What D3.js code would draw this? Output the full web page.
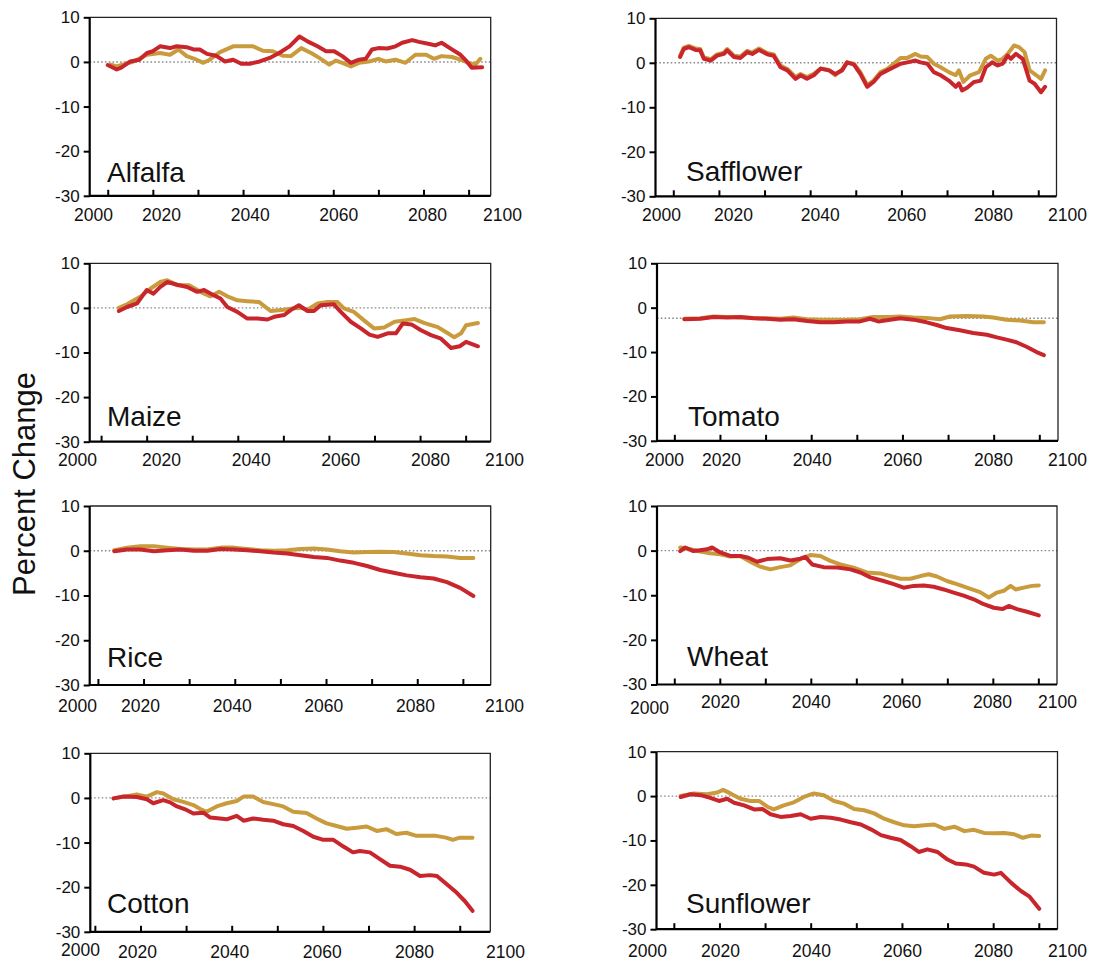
<!DOCTYPE html>
<html>
<head>
<meta charset="utf-8">
<script src="https://cdn.jsdelivr.net/npm/d3@7"></script>
<style>
  body { margin: 0; background: #fff; }
  svg { display: block; font-family: "Liberation Sans", Arial, Helvetica, sans-serif; }
</style>
</head>
<body>
<svg id="chart" width="1120" height="963"></svg>
<script>
// ---- data: yield change (%) by year, two emission scenarios per crop ----
const crops = ["Alfalfa", "Safflower", "Maize", "Tomato", "Rice", "Wheat", "Cotton", "Sunflower"];
const yTicks = [10, 0, -10, -20, -30];
const xTickYears = [2010, 2020, 2030, 2040, 2050, 2060, 2070, 2080, 2090];
const xLabelYears = [2000, 2020, 2040, 2060, 2080, 2100];
const refLevels = [0, 0, 0, -2.4, 0, 0, 0, 0];

const alfalfaA2 = [[2010,-0.7],[2012,-1.7],[2013,-1.3],[2015,0.1],[2017,0.5],[2018.7,2],[2020,2.4],[2021.6,3.5],[2023.8,3.1],[2025.3,3.5],[2027.5,3.3],[2029,2.8],[2030.4,2.8],[2032,1.8],[2034,1.4],[2036,0.1],[2037.8,0.5],[2039.6,-0.4],[2041.5,-0.4],[2043.7,0.1],[2045.9,0.9],[2048,2],[2050.3,3.5],[2052.5,5.7],[2054.3,4.6],[2056.5,3.5],[2058.4,2.4],[2060.2,2.4],[2062,1.3],[2063.9,-0.2],[2065.7,0.5],[2067.2,0.7],[2068.6,2.8],[2070,3.1],[2072,3],[2073.8,3.5],[2075.3,4.3],[2077.5,4.9],[2079,4.5],[2081.3,4],[2082.6,3.7],[2084,4.3],[2086.3,2.8],[2088.2,1.6],[2089.6,0.1],[2090.7,-1.3],[2093,-1.2]];
const alfalfaB1 = [[2010.7,-0.6],[2012,-1],[2015.7,0.1],[2018.7,1.6],[2021.6,2],[2023.8,1.6],[2025.7,2.8],[2027.5,1.3],[2029.7,0.5],[2031.2,-0.2],[2032.6,0.5],[2034.9,2.2],[2037.8,3.5],[2040,3.5],[2042.2,3.5],[2044.4,2.5],[2046.6,2.4],[2048.8,1.4],[2050.6,1.3],[2052.9,3.1],[2055.1,2],[2056.9,0.9],[2059.1,-0.6],[2060.6,0.3],[2062,-0.2],[2063.9,-1],[2065.7,-0.2],[2067.9,0.1],[2070,0.7],[2071.6,0.1],[2073.8,0.5],[2076,-0.2],[2078.2,1.6],[2080.6,1.6],[2082.3,0.7],[2084,1.3],[2086.3,1.1],[2088.2,0.5],[2090,-0.2],[2091.5,-0.6],[2092.6,0.7]];

const safflowerA2 = [[2011.5,1.3],[2012.3,3.1],[2013.4,3.5],[2014.9,2.9],[2015.9,2.8],[2016.7,0.9],[2018.2,0.5],[2019.6,1.6],[2021.1,2],[2021.8,2.8],[2023.3,1.3],[2024.7,1.1],[2026.2,2.4],[2027.3,2],[2028.8,2.9],[2030.6,1.9],[2032,1.6],[2033.5,-1],[2035,-1.7],[2036.8,-3.6],[2037.9,-2.8],[2039.3,-3.6],[2040.8,-2.8],[2042.3,-1.3],[2044.1,-1.7],[2045.5,-2.5],[2047,-1.7],[2048.1,0.1],[2049.6,-0.4],[2051,-2.5],[2052.5,-5.4],[2053.9,-4.3],[2055.4,-2.5],[2056.9,-1.7],[2058.3,-1],[2059.8,-0.2],[2061.3,0.1],[2063.1,0.5],[2064.2,0.1],[2065.7,-0.2],[2067.1,-2.1],[2068.6,-2.8],[2070.4,-4],[2071.9,-5.4],[2072.6,-4.6],[2073.3,-6.2],[2074.4,-5.6],[2075.9,-4.3],[2077.4,-4],[2078.5,-1],[2079.9,0.1],[2081.1,-0.6],[2082.2,-0.2],[2083.3,1.6],[2084,0.9],[2085.1,2],[2086.6,0.9],[2088.1,-4],[2089.2,-4.7],[2090.6,-6.6],[2091.5,-5.4]];
const safflowerB1 = [[2011.5,1.6],[2012.3,3.4],[2013.4,3.8],[2014.9,3.2],[2015.9,3.1],[2016.7,1.2],[2018.2,0.8],[2019.6,1.9],[2021.1,2.3],[2021.8,3.1],[2023.3,1.6],[2024.7,1.4],[2026.2,2.7],[2027.3,2.3],[2028.8,3.2],[2030.6,2.2],[2032,1.9],[2033.5,-0.6],[2035,-1.4],[2036.8,-3.2],[2037.9,-2.5],[2039.3,-3.2],[2040.8,-2.5],[2042.3,-1.3],[2044.1,-1.6],[2045.5,-2.8],[2047,-1.5],[2048.1,0.1],[2049.6,-0.2],[2051,-2.1],[2052.5,-5],[2053.9,-4],[2055.4,-2.1],[2056.9,-1.4],[2058.3,-0.2],[2059.8,1.1],[2061.3,1.1],[2063.1,2],[2064.2,1.4],[2065.7,1.3],[2067.1,-0.2],[2068.6,-1],[2070.4,-2.1],[2071.9,-2.8],[2072.6,-1.7],[2073.6,-4.3],[2075.1,-2.8],[2077,-2.1],[2078.5,0.9],[2079.6,1.6],[2081.1,0.5],[2082.2,0.9],[2083.3,2],[2084.7,3.9],[2085.8,3.5],[2087,2.4],[2088.1,-1.7],[2089.6,-2.8],[2090.6,-3.6],[2091.5,-1.7]];

const maizeA2 = [[2013.9,-0.7],[2015.7,0.2],[2017.9,1],[2020,4],[2021.5,3.2],[2023,4.7],[2024.5,5.8],[2026.7,5.2],[2028.9,4.7],[2031.1,3.6],[2032.6,4],[2034.8,2.8],[2036.2,2.1],[2037.7,0.2],[2039.9,-0.9],[2042.1,-2.4],[2044.3,-2.4],[2046.5,-2.6],[2048,-2],[2050.2,-1.6],[2051.6,-0.5],[2053.4,0.6],[2055.3,-0.7],[2056.7,-0.7],[2058.2,0.6],[2061.1,0.8],[2062.6,-0.9],[2064.8,-3.1],[2067,-4.6],[2068.9,-6],[2070.7,-6.5],[2072.9,-5.7],[2074.7,-5.7],[2076.2,-3.5],[2078.1,-3.7],[2080.2,-5],[2082.4,-6.1],[2084.6,-6.9],[2086.8,-9],[2088.7,-8.6],[2090.1,-7.6],[2092.7,-8.6]];
const maizeB1 = [[2013.9,0],[2015.7,0.8],[2018.6,2.5],[2020.8,4.3],[2023,5.8],[2024.5,6.2],[2026.7,5.1],[2029.3,5.1],[2031.8,3.6],[2034,2.6],[2035.9,3.6],[2037.7,2.6],[2039.9,1.7],[2042.1,1.5],[2044.7,1.3],[2047.2,-0.7],[2050.2,-0.4],[2052.3,-0.1],[2053.8,0],[2055.3,-0.4],[2057.5,1],[2059.7,1.3],[2061.9,1.3],[2063.3,-0.1],[2065.5,-0.9],[2067.7,-2.8],[2069.9,-4.6],[2072.1,-4.4],[2074.4,-3.1],[2076.6,-2.8],[2078.8,-2.5],[2081,-3.4],[2083.9,-4.3],[2086.1,-5.7],[2087.5,-6.6],[2089,-5.7],[2090.1,-3.9],[2092.7,-3.4]];

const tomatoA2 = [[2012.2,-2.6],[2015.7,-2.5],[2018.6,-2.1],[2021.5,-2.2],[2024.5,-2.1],[2027.4,-2.4],[2030.3,-2.5],[2033.2,-2.7],[2036.1,-2.6],[2039.1,-3],[2042,-3.3],[2044.9,-3.3],[2047.8,-3.1],[2050.7,-3.1],[2052.9,-2.5],[2054.7,-3.1],[2057.3,-2.7],[2059.5,-2.4],[2062.4,-2.7],[2065.3,-3.3],[2067.5,-3.9],[2069.7,-4.6],[2072.6,-5.1],[2075.5,-5.7],[2078.5,-6.1],[2080.7,-6.7],[2082.8,-7.2],[2085,-7.8],[2087.2,-8.8],[2089.4,-10],[2091,-10.7]];
const tomatoB1 = [[2012.2,-2.5],[2015.7,-2.4],[2018.6,-2],[2021.5,-2.1],[2024.5,-2.2],[2027.4,-2.3],[2030.3,-2.4],[2033.2,-2.5],[2036.1,-2.2],[2039.1,-2.6],[2042,-2.7],[2044.9,-2.7],[2047.8,-2.7],[2050.7,-2.6],[2053.6,-2.1],[2057.3,-2.1],[2059.5,-2],[2062.4,-2.2],[2065.3,-2.3],[2068.2,-2.6],[2070.4,-2],[2074,-1.9],[2077.7,-2],[2079.9,-2.2],[2082.8,-2.7],[2085.8,-2.9],[2088.7,-3.3],[2091,-3.3]];

const riceA2 = [[2013.6,-0.1],[2016.4,0.3],[2019.3,0.3],[2022.3,-0.1],[2025.2,0.1],[2028.1,0.3],[2031,0],[2034,0],[2036.9,0.4],[2039.8,0.3],[2042.7,0.1],[2045.6,-0.1],[2048.5,-0.4],[2051.5,-0.6],[2054.4,-1],[2057.3,-1.4],[2060.2,-1.6],[2063.1,-2.2],[2066.1,-2.7],[2069,-3.4],[2071.9,-4.3],[2074.8,-4.9],[2077.7,-5.5],[2080.7,-5.9],[2083.6,-6.2],[2086.5,-7],[2089.4,-8.3],[2092.3,-10.1]];
const riceB1 = [[2013.6,0.1],[2016.4,0.7],[2019.3,1],[2022.3,1],[2025.2,0.7],[2028.1,0.4],[2031,0.3],[2034,0.3],[2036.9,0.7],[2039.8,0.7],[2042.7,0.4],[2045.6,0.1],[2048.5,0],[2051.5,0.1],[2054.4,0.4],[2057.3,0.5],[2060.2,0.3],[2063.1,-0.1],[2066.1,-0.4],[2069,-0.3],[2071.9,-0.2],[2074.8,-0.3],[2077.7,-0.6],[2080.7,-1],[2083.6,-1.2],[2086.5,-1.3],[2089.4,-1.6],[2092.3,-1.6]];

const wheatA2 = [[2011.3,-0.1],[2012.4,0.7],[2014.2,-0.1],[2015.7,0.1],[2017.2,0.3],[2018.3,0.7],[2020.1,-0.4],[2022.3,-1.2],[2024.5,-1.2],[2026.3,-1.6],[2028.2,-2.5],[2030.4,-1.9],[2033.3,-1.7],[2035.5,-2.2],[2037.7,-1.8],[2038.8,-1.4],[2040.3,-3.1],[2042.8,-3.7],[2045.8,-3.8],[2048.7,-4.2],[2050.9,-4.9],[2053.1,-6],[2056,-6.8],[2058.2,-7.5],[2060.4,-8.3],[2062.6,-7.9],[2064.8,-7.8],[2067,-8.1],[2069.2,-8.7],[2071.4,-9.4],[2073.6,-10.1],[2075.8,-10.9],[2078,-12],[2080.2,-12.8],[2082.1,-13.1],[2083.5,-12.4],[2085.3,-13.1],[2087.5,-13.7],[2090.1,-14.5]];
const wheatB1 = [[2011.3,0.7],[2013.5,0.3],[2015.7,-0.2],[2017.9,-0.6],[2020.1,-0.8],[2022.3,-1.3],[2024.5,-1.2],[2026.7,-2.5],[2028.9,-3.6],[2031.1,-4.2],[2033.3,-3.7],[2035.5,-3.3],[2037.7,-1.9],[2039.9,-1],[2042.1,-1.2],[2044.3,-2.3],[2046.5,-3.1],[2049.4,-3.8],[2052.3,-4.9],[2055.3,-5.1],[2057.4,-5.7],[2059.7,-6.3],[2061.9,-6.3],[2064.1,-5.7],[2065.9,-5.3],[2067.7,-5.8],[2069.9,-6.8],[2072.1,-7.5],[2074.3,-8.3],[2077.2,-9.3],[2079.1,-10.5],[2080.9,-9.4],[2082.4,-9],[2083.9,-7.9],[2085,-8.7],[2086.8,-8.3],[2088.6,-7.9],[2090.1,-7.8]];

const cottonA2 = [[2014.1,-0.1],[2016.3,0.3],[2019.2,0.2],[2021.4,-0.3],[2022.8,-1.2],[2025,-0.5],[2026.5,-1],[2028,-1.9],[2030.1,-2.7],[2031.6,-3.5],[2033.8,-3.3],[2035.3,-4.4],[2037.4,-4.6],[2038.9,-4.8],[2041.1,-4],[2042.6,-5.1],[2044.7,-4.6],[2046.9,-4.9],[2049.1,-5.1],[2051.3,-5.9],[2053.5,-6.3],[2055.7,-7.4],[2057.9,-8.7],[2060.1,-9.4],[2062.3,-9.4],[2064.5,-10.9],[2066.6,-12.2],[2068.1,-11.9],[2070.3,-12.2],[2072.5,-13.7],[2074.7,-15.2],[2076.9,-15.4],[2079.1,-16.1],[2081.3,-17.5],[2083.5,-17.3],[2085,-17.5],[2087.1,-19.3],[2089.3,-21.2],[2091.1,-23.1],[2092.8,-25.3]];
const cottonB1 = [[2014.1,-0.1],[2017,0.4],[2019.2,0.8],[2021.4,0.3],[2023.6,1.3],[2025,1],[2027.2,-0.3],[2029.4,-0.9],[2031.6,-1.6],[2033.1,-2.5],[2034.5,-3.1],[2036.7,-1.9],[2038.9,-1.2],[2041.1,-0.7],[2042.6,0.3],[2044.7,0.3],[2046.9,-0.9],[2049.1,-1.4],[2051.3,-1.9],[2053.5,-3.1],[2056.4,-3.4],[2058.6,-4.6],[2060.8,-5.7],[2063,-6.3],[2065.2,-6.9],[2067.4,-6.7],[2069.6,-6.4],[2071.8,-7.4],[2073.9,-7],[2076.1,-8.1],[2078.3,-7.8],[2080.5,-8.5],[2082.6,-8.5],[2084.8,-8.5],[2087,-8.9],[2088.5,-9.4],[2090,-8.9],[2092.8,-8.9]];

const sunflowerA2 = [[2011.5,-0.2],[2013.7,0.4],[2015.9,0.2],[2018,-0.4],[2019.9,-1.1],[2021.7,-0.6],[2023.2,-1.5],[2025.4,-2.1],[2027.6,-3],[2029.4,-2.9],[2031.2,-4.1],[2033.4,-4.7],[2035.6,-4.5],[2037.8,-4.1],[2040,-5.1],[2042.2,-4.7],[2044.4,-4.9],[2046.6,-5.3],[2048.8,-5.9],[2051,-6.4],[2053.2,-7.5],[2055.4,-8.8],[2057.5,-9.4],[2059.7,-9.9],[2061.9,-11.3],[2063.7,-12.6],[2065.6,-12],[2067.8,-12.6],[2070,-14.3],[2071.8,-15.2],[2074,-15.4],[2075.8,-15.9],[2078,-17.3],[2080.2,-17.7],[2081.7,-17.3],[2083.9,-19.5],[2086.1,-21.4],[2087.9,-22.6],[2090.1,-25.4]];
const sunflowerB1 = [[2011.5,0],[2014.4,0.6],[2017.3,0.4],[2019.5,0.8],[2020.8,1.4],[2022.4,0.6],[2024.6,-0.6],[2026.8,-1.1],[2028.7,-1.1],[2030.5,-2.4],[2031.9,-3],[2034.1,-2.1],[2036.3,-1.4],[2038.5,-0.2],[2040.7,0.6],[2042.9,0.2],[2045.1,-1.1],[2047.3,-1.7],[2049.5,-2.9],[2051.7,-3.2],[2053.9,-3.9],[2056.1,-5.1],[2058.3,-5.9],[2060.5,-6.6],[2062.7,-6.8],[2064.9,-6.6],[2067.1,-6.4],[2069.3,-7.4],[2071.5,-6.9],[2073.7,-7.9],[2075.8,-7.6],[2078,-8.3],[2080.2,-8.4],[2082.4,-8.3],[2084.6,-8.6],[2086.5,-9.4],[2088.3,-8.9],[2090.1,-9]];

const seriesA2 = [alfalfaA2, safflowerA2, maizeA2, tomatoA2, riceA2, wheatA2, cottonA2, sunflowerA2];
const seriesB1 = [alfalfaB1, safflowerB1, maizeB1, tomatoB1, riceB1, wheatB1, cottonB1, sunflowerB1];

// ---- layout: frame of each small panel (pixels) and its year span ----
// lab: pixel positions of the 2000 / 2020 / 2080 / 2100 labels; firstDy nudges the "2000" label
const layout = [
  { left: 89.7,  top: 17.3,  w: 401, h: 178.5, yr: [2006.0, 2094.9], lab: [93, 161, 427, 502],  labY: 215, firstDy: 0,  nameX: 107, nameY: 182 },
  { left: 655.5, top: 18.3,  w: 401, h: 178,   yr: [2006.1, 2094.0], lab: [661, 733, 993, 1067], labY: 215, firstDy: 0,  nameX: 686, nameY: 181 },
  { left: 89.7,  top: 263.3, w: 401, h: 178.4, yr: [2007.5, 2095.5], lab: [77, 161, 430, 504],   labY: 460, firstDy: 0,  nameX: 107, nameY: 426 },
  { left: 657,   top: 263.3, w: 401, h: 177.5, yr: [2006.2, 2094.1], lab: [664, 721, 993, 1067], labY: 460, firstDy: 0,  nameX: 688, nameY: 426 },
  { left: 89.7,  top: 506,   w: 401, h: 179,   yr: [2008.2, 2096.1], lab: [77, 140, 415, 504],   labY: 706, firstDy: 0,  nameX: 107, nameY: 667 },
  { left: 657,   top: 506,   w: 400, h: 178.5, yr: [2006.2, 2094.1], lab: [649, 720, 992, 1057], labY: 702, firstDy: 6,  nameX: 687, nameY: 666 },
  { left: 90.3,  top: 753.3, w: 400, h: 178.5, yr: [2009.0, 2096.7], lab: [80, 137, 414, 505],   labY: 952, firstDy: -2, nameX: 107, nameY: 913 },
  { left: 656.5, top: 751.7, w: 401, h: 177.5, yr: [2006.2, 2094.1], lab: [647, 720, 993, 1067], labY: 951, firstDy: 0,  nameX: 686, nameY: 913 }
];

const colorA2 = "#c8262c";
const colorB1 = "#c99b3d";
const fontFamily = '"Liberation Sans", Arial, Helvetica, sans-serif';

const svg = d3.select("#chart");

layout.forEach((p, i) => {
  const x = d3.scaleLinear().domain(p.yr).range([0, p.w]);
  const y = d3.scaleLinear().domain([-30, 10]).range([p.h, 0]);
  const g = svg.append("g").attr("transform", `translate(${p.left},${p.top})`);

  // dotted reference level
  g.append("line")
    .attr("x1", 0).attr("x2", p.w)
    .attr("y1", y(refLevels[i])).attr("y2", y(refLevels[i]))
    .attr("stroke", "#8a8a8a").attr("stroke-width", 1.4)
    .attr("stroke-dasharray", "1.6,2.2");

  // scenario lines (B1 underneath, A2 on top)
  const line = d3.line().x(d => x(d[0])).y(d => y(d[1]));
  [[seriesB1[i], colorB1], [seriesA2[i], colorA2]].forEach(([data, color]) => {
    g.append("path")
      .datum(data)
      .attr("fill", "none")
      .attr("stroke", color)
      .attr("stroke-width", 4)
      .attr("stroke-linejoin", "round")
      .attr("stroke-linecap", "round")
      .attr("d", line);
  });

  // frame: light top/right, heavy left/bottom
  g.append("path")
    .attr("d", `M0,0H${p.w}V${p.h}`)
    .attr("fill", "none").attr("stroke", "#222").attr("stroke-width", 1.3);
  g.append("path")
    .attr("d", `M0,0V${p.h}H${p.w}`)
    .attr("fill", "none").attr("stroke", "#000").attr("stroke-width", 2.2);

  // y axis: outward ticks
  const yAxis = g.append("g")
    .call(d3.axisLeft(y).tickValues(yTicks).tickSize(6).tickPadding(4).tickFormat(d => String(d)));
  yAxis.select(".domain").remove();
  yAxis.selectAll(".tick line").attr("stroke", "#000").attr("stroke-width", 2);
  yAxis.selectAll("text").attr("font-size", 17).attr("font-family", fontFamily).attr("fill", "#111");

  // x axis: inward tick marks every ten years
  const xAxis = g.append("g").attr("transform", `translate(0,${p.h})`)
    .call(d3.axisBottom(x).tickValues(xTickYears).tickSizeInner(-6).tickSizeOuter(0).tickFormat(""));
  xAxis.select(".domain").remove();
  xAxis.selectAll(".tick line").attr("stroke", "#000").attr("stroke-width", 2);

  // year labels beneath the frame
  const labelScale = d3.scaleLinear().domain([2000, 2020, 2080, 2100]).range(p.lab);
  const labels = svg.append("g").attr("transform", `translate(0,${p.labY})`)
    .call(d3.axisBottom(labelScale).tickValues(xLabelYears).tickSize(0).tickPadding(0).tickFormat(d => String(d)));
  labels.select(".domain").remove();
  labels.selectAll("text")
    .attr("y", d => d === 2000 ? p.firstDy : 0)
    .attr("dy", "0.36em")
    .attr("font-size", 17.5).attr("font-family", fontFamily).attr("fill", "#111");

  // crop name
  svg.append("text")
    .attr("x", p.nameX).attr("y", p.nameY)
    .attr("font-size", 28).attr("font-family", fontFamily).attr("fill", "#111")
    .text(crops[i]);
});

// shared y-axis title
svg.append("text")
  .attr("transform", "translate(35,484) rotate(-90)")
  .attr("text-anchor", "middle")
  .attr("font-size", 31).attr("font-family", fontFamily).attr("fill", "#111")
  .text("Percent Change");
</script>
</body>
</html>
